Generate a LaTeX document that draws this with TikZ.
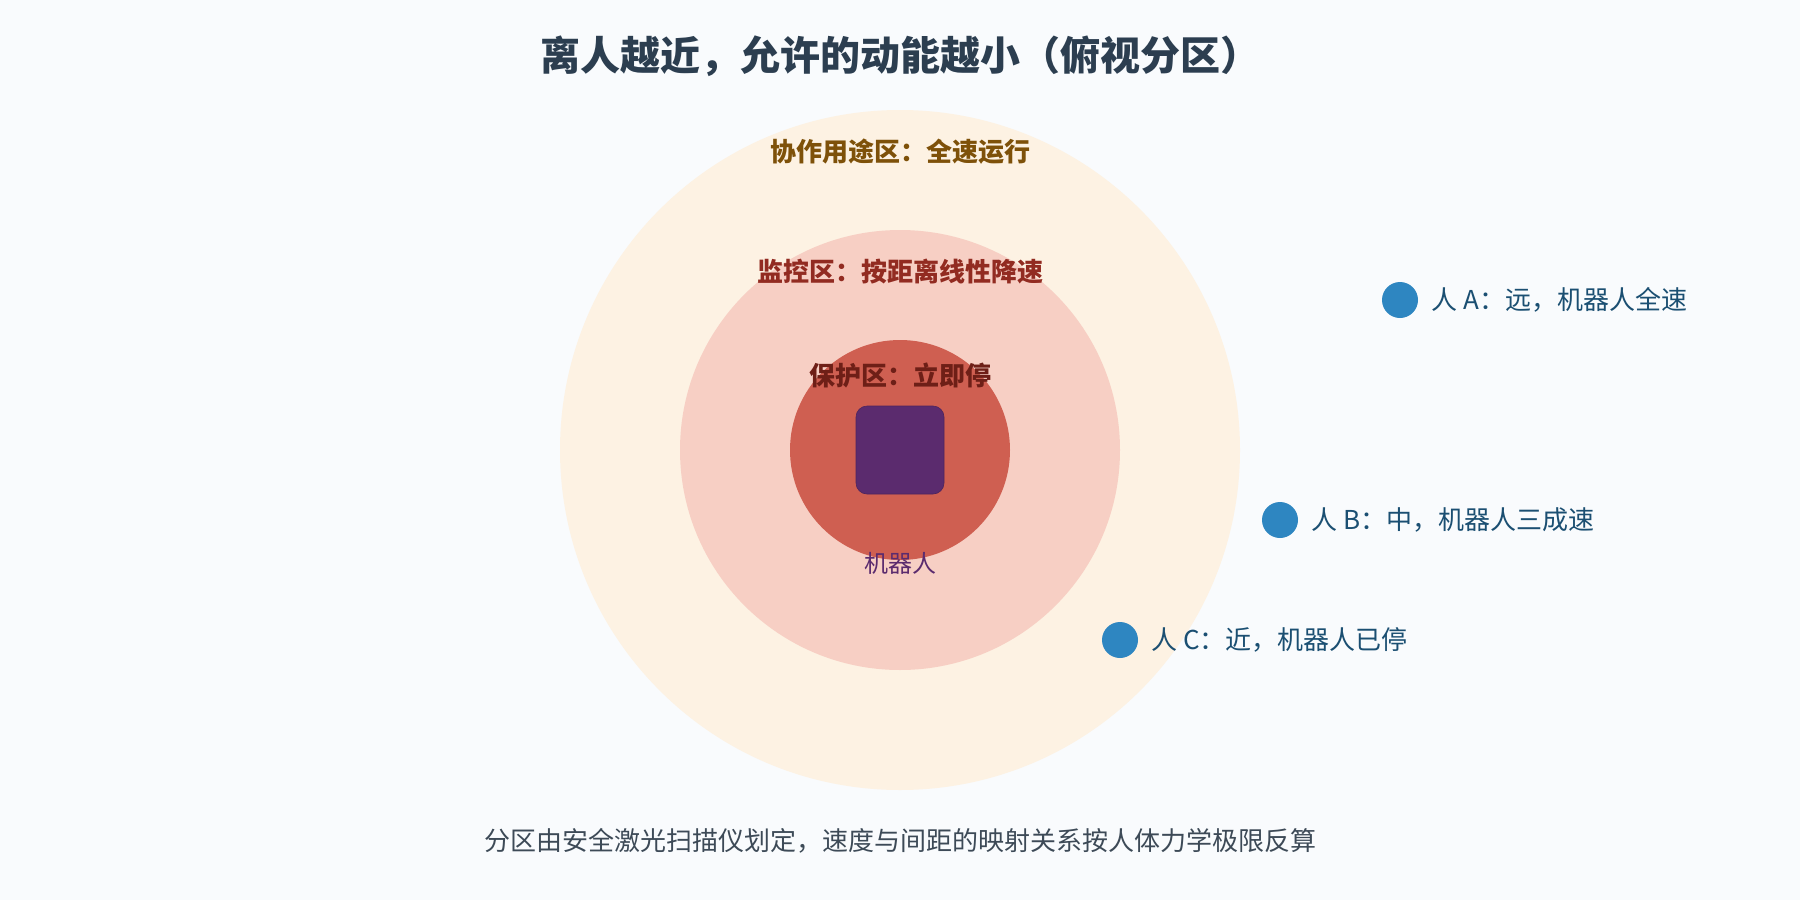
\documentclass[tikz,border=0pt]{standalone}
\usepackage{fontspec}
\setmainfont{Noto Sans CJK SC}
\usetikzlibrary{positioning}

\definecolor{bgpaper}{HTML}{F9FBFD}
\definecolor{titleink}{HTML}{2C3E50}
\definecolor{zonefar}{HTML}{FDF2E3}
\definecolor{zonemid}{HTML}{F7CFC4}
\definecolor{zonenear}{HTML}{CF5F51}
\definecolor{farink}{HTML}{7E5109}
\definecolor{midink}{HTML}{922B21}
\definecolor{nearink}{HTML}{6E1F17}
\definecolor{robotfill}{HTML}{5B2B6E}
\definecolor{persondot}{HTML}{2E86C1}
\definecolor{personink}{HTML}{1B4F72}
\definecolor{noteink}{HTML}{3D4A57}

\begin{document}
\begin{tikzpicture}[x=1pt,y=-1pt,
    zone/.style={circle,inner sep=0pt,draw=none},
    zonelabel/.style={font=\fontsize{26}{30}\selectfont\bfseries},
    person/.style={circle,fill=persondot,minimum size=36pt,inner sep=0pt},
    personlabel/.style={inner sep=3pt,text=personink,font=\fontsize{26}{30}\selectfont}]
    \fill[bgpaper] (0,0) rectangle (1800,900);
    \useasboundingbox (0,0) rectangle (1800,900);

    \node[font=\fontsize{40}{46}\selectfont\bfseries,text=titleink] (title) at (900,56) {离人越近，允许的动能越小（俯视分区）};

    % zones, outside in
    \node[zone,fill=zonefar,minimum size=680pt] (far) at (900,450) {};
    \node[zone,fill=zonemid,minimum size=440pt] (mid) at (900,450) {};
    \node[zone,fill=zonenear,minimum size=220pt] (near) at (900,450) {};
    \node[rectangle,rounded corners=11pt,fill=robotfill,draw=robotfill!85!black,line width=0.6pt,minimum size=88pt,inner sep=0pt] (robot) at (900,450) {};

    \node[zonelabel,text=farink] (farlabel) at (900,152) {协作用途区：全速运行};
    \node[zonelabel,text=midink] (midlabel) at (900,272) {监控区：按距离线性降速};
    \node[zonelabel,text=nearink] (nearlabel) at (900,375) {保护区：立即停};
    \node[text=robotfill,font=\fontsize{24}{28}\selectfont] (robotlabel) at (900,563) {机器人};

    % people
    \node[person] (pa) at (1400,300) {};
    \node[personlabel,right=10pt of pa] (palabel) {人 A：远，机器人全速};
    \node[person] (pb) at (1280,520) {};
    \node[personlabel,right=10pt of pb] (pblabel) {人 B：中，机器人三成速};
    \node[person] (pc) at (1120,640) {};
    \node[personlabel,right=10pt of pc] (pclabel) {人 C：近，机器人已停};

    \node[text=noteink,font=\fontsize{26}{30}\selectfont] (note) at (900,841) {分区由安全激光扫描仪划定，速度与间距的映射关系按人体力学极限反算};
\end{tikzpicture}
\end{document}
